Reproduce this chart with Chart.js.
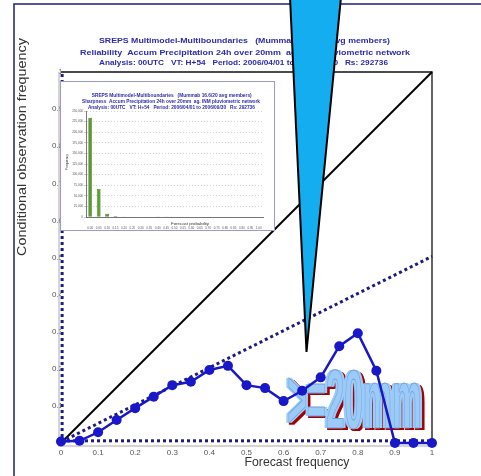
<!DOCTYPE html>
<html>
<head>
<meta charset="utf-8">
<script src="https://cdn.jsdelivr.net/npm/chart.js@4.4.1/dist/chart.umd.min.js"></script>
<style>
  html, body { margin: 0; padding: 0; background: #fff; }
  #wrap { position: relative; width: 481px; height: 476px; overflow: hidden; }
  #main { position: absolute; left: 0; top: 0; }
  #insetBox { position: absolute; left: 60px; top: 81px; width: 213px; height: 148px;
              border: 1px solid #9a9ad0; background: #fff; }
</style>
</head>
<body>
<div id="wrap">
  <canvas id="main" width="481" height="476"></canvas>
  <div id="insetBox"><canvas id="inset" width="213" height="148"></canvas></div>
</div>
<script>
// Datos (fiabilidad, umbral 20 mm)
const binCentres = [0, 0.05, 0.1, 0.15, 0.2, 0.25, 0.3, 0.35, 0.4, 0.45, 0.5,
                    0.55, 0.6, 0.65, 0.7, 0.75, 0.8, 0.85, 0.9, 0.95, 1];
const obsFreq = [0.004, 0.006, 0.029, 0.062, 0.094, 0.125, 0.156, 0.165, 0.197, 0.208, 0.156,
                 0.148, 0.113, 0.141, 0.177, 0.261, 0.296, 0.195, 0, 0, 0];
const axisTicks = [0, 0.1, 0.2, 0.3, 0.4, 0.5, 0.6, 0.7, 0.8, 0.9, 1];
const climFreq = 0.006;

// Diagrama de agudeza (recuadro)
const sharpLabels = ["0.00", "0.05", "0.10", "0.15", "0.20", "0.25", "0.30", "0.35", "0.40", "0.45", "0.50",
                     "0.55", "0.60", "0.65", "0.70", "0.75", "0.80", "0.85", "0.90", "0.95", "1.00"];
const sharpCounts = [234000, 66000, 7600, 2600, 1100, 600, 400, 300, 200, 100, 0,
                     0, 0, 0, 0, 0, 0, 0, 0, 0, 0];
const sharpTicks = [0, 25000, 50000, 75000, 100000, 125000, 150000, 175000, 200000, 225000, 250000];

const titleLines = [
  "SREPS Multimodel-Multiboundaries   (Mummab 16.6/20 avg members)",
  "Reliability  Accum Precipitation 24h over 20mm  ag. INM pluviometric network",
  "Analysis: 00UTC   VT: H+54   Period: 2006/04/01 to 2006/09/30   Rs: 292736"
];
const insetTitle = [
  "SREPS Multimodel-Multiboundaries   (Mummab 16.6/20 avg members)",
  "Sharpness  Accum Precipitation 24h over 20mm  ag. INM pluviometric network",
  "Analysis: 00UTC   VT: H+54   Period: 2006/04/01 to 2006/09/30   Rs: 292736"
];

const FONT = '"Liberation Sans", Arial, sans-serif';

// texto ajustado a un ancho dado (escala horizontal)
function fitText(ctx, txt, cx, cy, width) {
  const w = ctx.measureText(txt).width;
  ctx.save();
  ctx.translate(cx, cy);
  ctx.scale(width / w, 1);
  ctx.textAlign = "center";
  ctx.textBaseline = "middle";
  ctx.fillText(txt, 0, 0);
  ctx.restore();
}

const decoMain = {
  id: "decoMain",
  beforeDatasetsDraw(chart) {
    const ctx = chart.ctx;
    const a = chart.chartArea;
    ctx.save();
    // caja del grafico
    ctx.lineWidth = 1;
    ctx.strokeStyle = "#aaa";
    ctx.beginPath();
    ctx.moveTo(a.left - 2, a.top); ctx.lineTo(a.left - 2, a.bottom);
    ctx.moveTo(a.left - 3, a.bottom); ctx.lineTo(a.right, a.bottom);
    ctx.stroke();
    ctx.strokeStyle = "#111";
    ctx.lineWidth = 1.3;
    ctx.beginPath();
    ctx.moveTo(a.left, a.top); ctx.lineTo(a.right, a.top); ctx.lineTo(a.right, a.bottom);
    ctx.stroke();

    // rotulo ">=20mm" (engrosado en horizontal)
    const txt = ">=20mm";
    ctx.font = "bold 84px " + FONT;
    const w = ctx.measureText(txt).width;
    const sx = 134 / w;
    ctx.translate(285, 428);
    ctx.scale(sx, 1);
    ctx.textBaseline = "alphabetic";
    const thick = 5;
    ctx.fillStyle = "#a30000";
    for (let d = 0; d <= thick; d += 0.5) ctx.fillText(txt, (d + 2.5) / sx, 2);
    ctx.fillStyle = "#9ccbf8";
    for (let d = 0; d <= thick; d += 0.5) ctx.fillText(txt, d / sx, 0);
    ctx.lineWidth = 1;
    ctx.strokeStyle = "#6d9fe0";
    ctx.strokeText(txt, (thick / 2) / sx, 0);
    ctx.restore();
  },
  afterDraw(chart) {
    const ctx = chart.ctx;
    ctx.save();
    // marco de la figura
    ctx.strokeStyle = "#1e1e78";
    ctx.lineWidth = 1.5;
    ctx.beginPath();
    ctx.moveTo(481, 4); ctx.lineTo(14, 4); ctx.lineTo(14, 476);
    ctx.stroke();

    // titulos
    ctx.fillStyle = "#2c2caa";
    ctx.font = "bold 8px " + FONT;
    fitText(ctx, titleLines[0], 244.5, 41, 291);
    fitText(ctx, titleLines[1], 245, 52.5, 330);
    fitText(ctx, titleLines[2], 243.5, 62.5, 289);

    ctx.fillStyle = "#333";
    ctx.font = "12px " + FONT;
    fitText(ctx, "Forecast frequency", 297, 463, 105);
    ctx.save();
    ctx.translate(22, 147);
    ctx.rotate(-Math.PI / 2);
    ctx.font = "13px " + FONT;
    fitText(ctx, "Conditional observation frequency", 0, 0, 218);
    ctx.restore();

    // cuna azul
    ctx.beginPath();
    ctx.moveTo(290, -3);
    ctx.lineTo(341, -3);
    ctx.lineTo(306.5, 352);
    ctx.closePath();
    ctx.fillStyle = "#14adef";
    ctx.fill();
    ctx.lineWidth = 2;
    ctx.strokeStyle = "#000";
    ctx.lineJoin = "miter";
    ctx.stroke();
    ctx.restore();
  }
};

const dotted = { borderColor: "#1c1c7c", borderWidth: 3, borderDash: [3, 3], pointRadius: 0, clip: false };

new Chart(document.getElementById("main"), {
  type: "scatter",
  data: {
    datasets: [
      {
        type: "line",
        data: binCentres.map((x, i) => ({ x, y: obsFreq[i] })),
        borderColor: "#1818c4",
        backgroundColor: "#1818c8",
        borderWidth: 2.5,
        pointRadius: 5,
        pointBorderWidth: 0,
        clip: false
      },
      Object.assign({ type: "line",
        data: [0, 1].map(x => ({ x, y: (x + climFreq) / 2 })) }, dotted),
      Object.assign({ type: "line",
        data: [0, 1].map(x => ({ x, y: climFreq })) }, dotted),
      Object.assign({ type: "line",
        data: [0, 1].map(y => ({ x: climFreq / 2, y })) }, dotted),
      {
        type: "line",
        data: [0, 1].map(v => ({ x: v, y: v })),
        borderColor: "#000",
        borderWidth: 2,
        pointRadius: 0,
        clip: false
      }
    ]
  },
  options: {
    responsive: false,
    animation: false,
    layout: { padding: { top: 72, right: 49, left: 0, bottom: 0 } },
    plugins: { legend: { display: false }, tooltip: { enabled: false } },
    scales: {
      x: {
        type: "linear", min: 0, max: 1,
        afterBuildTicks: s => { s.ticks = axisTicks.map(v => ({ value: v })); },
        afterFit: s => { s.height = 30; },
        grid: { display: false, drawTicks: false },
        border: { display: false },
        ticks: { font: { size: 8, family: FONT }, color: "#555", padding: 2, callback: v => String(v) }
      },
      y: {
        type: "linear", min: -0.008, max: 1,
        afterBuildTicks: s => { s.ticks = axisTicks.map(v => ({ value: v })); },
        afterFit: s => { s.width = 61; },
        grid: { display: false, drawTicks: false },
        border: { display: false },
        ticks: { font: { size: 8, family: FONT }, color: "#555", padding: -2, callback: v => String(v) }
      }
    }
  },
  plugins: [decoMain]
});

// recuadro: diagrama de agudeza
const decoInset = {
  id: "decoInset",
  afterDraw(chart) {
    const ctx = chart.ctx;
    ctx.save();
    ctx.fillStyle = "#2c2caa";
    ctx.font = "bold 5px " + FONT;
    fitText(ctx, insetTitle[0], 110.7, 13.7, 160);
    fitText(ctx, insetTitle[1], 110, 20, 178);
    fitText(ctx, insetTitle[2], 110.4, 26, 167);
    ctx.fillStyle = "#333";
    ctx.font = "4px " + FONT;
    fitText(ctx, "Forecast probability", 129, 142, 38);
    ctx.translate(6, 80);
    ctx.rotate(-Math.PI / 2);
    fitText(ctx, "Frequency", 0, 0, 16);
    ctx.restore();
  }
};

new Chart(document.getElementById("inset"), {
  type: "bar",
  data: {
    labels: sharpLabels,
    datasets: [{
      data: sharpCounts,
      backgroundColor: "#5c9c2c",
      borderColor: "#2e5a12",
      borderWidth: 0.6,
      barPercentage: 0.45,
      categoryPercentage: 1
    }]
  },
  options: {
    responsive: false,
    animation: false,
    layout: { padding: { top: 29, right: 11, left: 0, bottom: 0 } },
    plugins: { legend: { display: false }, tooltip: { enabled: false } },
    scales: {
      x: {
        afterFit: s => { s.height = 13; },
        grid: { display: false },
        border: { color: "#555", width: 0.8 },
        ticks: { font: { size: 3, family: FONT }, color: "#555", autoSkip: false, maxRotation: 0, padding: 1 }
      },
      y: {
        min: 0, max: 250000,
        afterBuildTicks: s => { s.ticks = sharpTicks.map(v => ({ value: v })); },
        afterFit: s => { s.width = 25; },
        grid: { color: "#aaa", lineWidth: 0.6, drawTicks: true, tickLength: 2 },
        border: { color: "#555", width: 0.8, dash: [1, 2] },
        ticks: { font: { size: 3, family: FONT }, color: "#555", padding: 1 }
      }
    }
  },
  plugins: [decoInset]
});
</script>
</body>
</html>
